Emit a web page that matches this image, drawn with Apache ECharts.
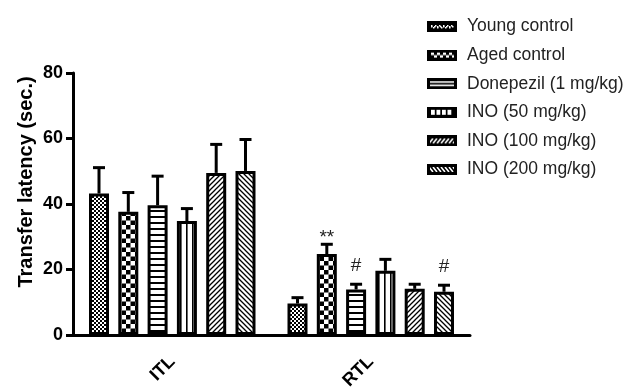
<!DOCTYPE html>
<html><head><meta charset="utf-8">
<script src="https://cdn.jsdelivr.net/npm/echarts@6/dist/echarts.min.js"></script>
<style>html,body{margin:0;padding:0;background:#fff}#c{width:632px;height:388px}</style>
</head><body><div id="c"></div>
<script>
const categories = ['ITL', 'RTL'];
const seriesNames = ['Young control', 'Aged control', 'Donepezil (1 mg/kg)', 'INO (50 mg/kg)', 'INO (100 mg/kg)', 'INO (200 mg/kg)'];
const youngControl = [43.2, 9.6];
const agedControl = [37.6, 24.7];
const donepezil = [39.6, 13.9];
const ino50 = [34.8, 19.6];
const ino100 = [49.5, 14.1];
const ino200 = [50.1, 13.2];
const youngControlErr = [7.9, 1.8];
const agedControlErr = [5.9, 3.0];
const donepezilErr = [8.9, 1.6];
const ino50Err = [3.8, 3.5];
const ino100Err = [8.7, 1.4];
const ino200Err = [9.6, 2.0];
const annotYoung = ['', ''];
const annotAged = ['', '**'];
const annotDonepezil = ['', '#'];
const annotIno50 = ['', ''];
const annotIno100 = ['', ''];
const annotIno200 = ['', '#'];
const yTicks = [0, 20, 40, 60, 80];
const yTitle = 'Transfer latency (sec.)';

const means = [youngControl, agedControl, donepezil, ino50, ino100, ino200];
const errs = [youngControlErr, agedControlErr, donepezilErr, ino50Err, ino100Err, ino200Err];
const annots = [annotYoung, annotAged, annotDonepezil, annotIno50, annotIno100, annotIno200];

function pat(w, h, bg, fg, draw) {
  const c = document.createElement('canvas'); c.width = w; c.height = h;
  const g = c.getContext('2d'); g.fillStyle = bg; g.fillRect(0, 0, w, h);
  g.fillStyle = fg; g.strokeStyle = fg; draw(g); return c;
}
const drawers = [
  [4, 4, g => { g.fillRect(0, 0, 2, 2); g.fillRect(2, 2, 2, 2); }],
  [9, 9, g => { g.fillRect(0, 0, 4.5, 4.5); g.fillRect(4.5, 4.5, 4.5, 4.5); }],
  [6, 6, g => { g.fillRect(0, 0, 6, 2); }],
  [6, 6, g => { g.fillRect(0, 0, 1.6, 6); }],
  [5, 5, g => { g.lineWidth = 1.3; g.beginPath(); g.moveTo(-1, 6); g.lineTo(6, -1); g.moveTo(-1, 1); g.lineTo(1, -1); g.moveTo(4, 6); g.lineTo(6, 4); g.stroke(); }],
  [5, 5, g => { g.lineWidth = 1.3; g.beginPath(); g.moveTo(-1, -1); g.lineTo(6, 6); g.moveTo(4, -1); g.lineTo(6, 1); g.moveTo(-1, 4); g.lineTo(1, 6); g.stroke(); }]
];
const patterns = drawers.map(d => pat(d[0], d[1], '#fff', '#000', d[2]));

// legend icons: black box with white motif
const ICON_W = 30, ICON_H = 11;
const legendMotifs = [
  g => { for (let x = 4; x < 26; x += 2) for (let y = 4; y < 7; y += 2) if (((x + y) / 2) % 2 === 0) g.fillRect(x, y, 1.5, 1.5); for (let x = 4; x < 26; x += 3) g.fillRect(x, 5, 1.5, 1.5); },
  g => { for (let x = 4; x < 26; x += 6) { g.fillRect(x, 3, 3, 2.5); g.fillRect(x + 3, 5.5, 3, 2.5); } },
  g => { g.fillRect(3, 3, 24, 1.6); g.fillRect(3, 6.4, 24, 1.6); },
  g => { for (let x = 4; x < 26; x += 5.5) g.fillRect(x, 3, 3.8, 5); },
  g => { g.lineWidth = 1.6; g.beginPath(); for (let x = 2; x < 30; x += 4) { g.moveTo(x, 8); g.lineTo(x + 4, 3); } g.stroke(); },
  g => { g.lineWidth = 1.6; g.beginPath(); for (let x = 2; x < 30; x += 4) { g.moveTo(x, 3); g.lineTo(x + 4, 8); } g.stroke(); }
];
const legendIcons = legendMotifs.map(m => {
  const c = document.createElement('canvas'); c.width = ICON_W; c.height = ICON_H;
  const g = c.getContext('2d'); g.fillStyle = '#000'; g.fillRect(0, 0, ICON_W, ICON_H);
  g.save(); g.beginPath(); g.rect(3, 3, ICON_W - 6, ICON_H - 6); g.clip();
  g.fillStyle = '#fff'; g.strokeStyle = '#fff'; m(g); g.restore();
  return 'image://' + c.toDataURL();
});

const BAR_W = 20, STEP = 29.3;
const FONT = '"Liberation Sans", Arial, sans-serif';

const series = [];
seriesNames.forEach((name, k) => {
  series.push({
    name, type: 'bar', barWidth: BAR_W, barGap: ((STEP - BAR_W) / BAR_W * 100) + '%',
    data: means[k],
    itemStyle: { color: { image: patterns[k], repeat: 'repeat' }, borderColor: '#000', borderWidth: 3 },
    z: 3
  });
});
seriesNames.forEach((name, k) => {
  series.push({
    name: name + ' err', type: 'custom', z: 2,
    data: categories.map((c, i) => [i, means[k][i], errs[k][i]]),
    renderItem: (params, api) => {
      const i = api.value(0), m = api.value(1), e = api.value(2);
      const p0 = api.coord([i, m]);
      const p1 = api.coord([i, m + e]);
      const x = p0[0] + (k - 2.5) * STEP;
      const txt = annots[k][i];
      const children = [
        { type: 'line', shape: { x1: x, y1: p0[1], x2: x, y2: p1[1] }, style: { stroke: '#000', lineWidth: 3 } },
        { type: 'line', shape: { x1: x - 6, y1: p1[1], x2: x + 6, y2: p1[1] }, style: { stroke: '#000', lineWidth: 3 } }
      ];
      if (txt) children.push({ type: 'text', style: { text: txt, x: x, y: p1[1] - (txt.charAt(0) === '*' ? 7 : 18), align: 'center', verticalAlign: 'middle', font: '19px ' + FONT, fill: '#222' } });
      return { type: 'group', children };
    }
  });
});

const chart = echarts.init(document.getElementById('c'));
chart.setOption({
  animation: false,
  backgroundColor: '#fff',
  grid: { left: 73, right: 162, top: 73, bottom: 53, outerBoundsMode: 'none', containLabel: false },
  legend: {
    data: seriesNames.map((n, k) => ({ name: n, icon: legendIcons[k] })),
    orient: 'vertical', left: 422, top: 12.5, itemWidth: ICON_W, itemHeight: ICON_H, itemGap: 10.6,
    textStyle: { fontFamily: FONT, fontSize: 17.5, color: '#222', padding: [0, 0, 0, 5] }
  },
  graphic: [{
    type: 'text', x: 26, y: 182, rotation: Math.PI / 2,
    style: { text: yTitle, align: 'center', verticalAlign: 'middle', font: 'bold 20px ' + FONT, fill: '#000' }
  }],
  xAxis: {
    type: 'category', data: categories,
    axisLine: { lineStyle: { color: '#000', width: 3 } },
    axisTick: { alignWithLabel: true, length: 7, lineStyle: { width: 3, color: '#000' } },
    axisLabel: { rotate: 45, margin: 24, fontFamily: FONT, fontWeight: 'bold', fontSize: 18, color: '#000' }
  },
  yAxis: {
    type: 'value', min: yTicks[0], max: yTicks[yTicks.length - 1], interval: yTicks[1] - yTicks[0],
    axisLine: { show: true, lineStyle: { color: '#000', width: 3 } },
    axisTick: { show: true, length: 7, lineStyle: { width: 3, color: '#000' } },
    axisLabel: { fontFamily: FONT, fontWeight: 'bold', fontSize: 18, color: '#000', margin: 10 },
    splitLine: { show: false }
  },
  series
});
</script></body></html>
